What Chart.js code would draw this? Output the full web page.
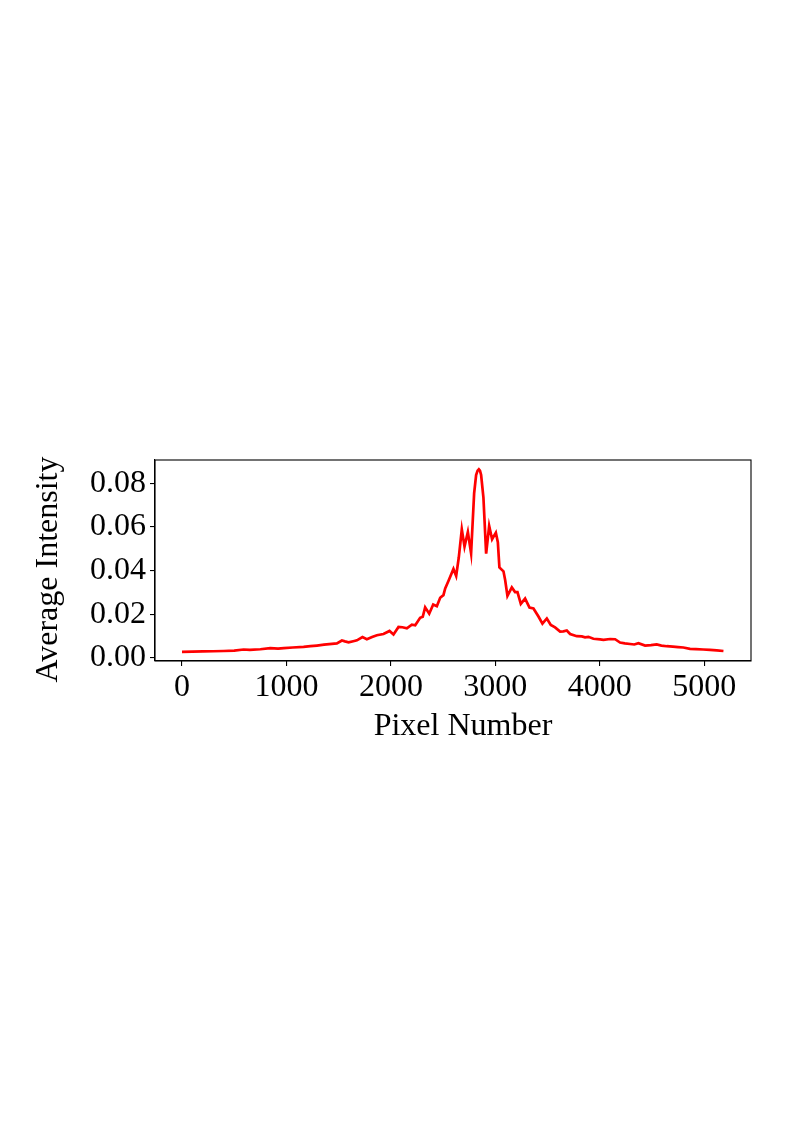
<!DOCTYPE html>
<html>
<head>
<meta charset="utf-8">
<script src="https://cdn.jsdelivr.net/npm/chart.js@4.4.1/dist/chart.umd.min.js"></script>
<style>
html,body{margin:0;padding:0;background:#fff;}
#wrap{position:relative;width:794px;height:1123px;}
</style>
</head>
<body>
<div id="wrap"><canvas id="c" width="794" height="1123"></canvas></div>
<script>
const pixelNumber = [0,100,200,300,400,500,590,650,750,845,920,975,1060,1164,1230,1292,1360,1435,1483,1531,1560,1595,1640,1675,1728,1770,1820,1866,1929,1987,2025,2073,2110,2153,2201,2233,2280,2305,2328,2367,2405,2440,2472,2503,2520,2552,2599,2625,2650,2679,2705,2737,2768,2797,2816,2830,2842,2853,2864,2886,2912,2941,2969,3005,3024,3039,3078,3094,3116,3158,3189,3212,3244,3285,3327,3365,3413,3451,3493,3531,3572,3620,3652,3684,3716,3780,3828,3859,3891,3939,4003,4035,4099,4147,4194,4240,4290,4330,4370,4434,4490,4545,4590,4641,4700,4750,4800,4864,4920,4990,5055,5120,5184];
const averageIntensity = [0.0028,0.0029,0.0030,0.0031,0.0032,0.0034,0.0039,0.0037,0.0040,0.0045,0.0043,0.0045,0.0048,0.0051,0.0054,0.0057,0.0061,0.0065,0.0067,0.0080,0.0076,0.0072,0.0077,0.0081,0.0096,0.0086,0.0096,0.0104,0.0110,0.0124,0.0108,0.0142,0.0141,0.0136,0.0153,0.0150,0.0184,0.0189,0.0232,0.0203,0.0245,0.0237,0.0276,0.0288,0.0319,0.0354,0.0408,0.0376,0.0460,0.0589,0.0510,0.0577,0.0479,0.0754,0.0838,0.0858,0.0864,0.0858,0.0838,0.0735,0.0478,0.0605,0.0544,0.0574,0.0530,0.0415,0.0397,0.0357,0.0284,0.0323,0.0302,0.0302,0.0248,0.0272,0.0231,0.0227,0.0190,0.0157,0.0181,0.0151,0.0140,0.0121,0.0122,0.0126,0.0110,0.0100,0.0099,0.0095,0.0097,0.0088,0.0085,0.0083,0.0087,0.0086,0.0071,0.0067,0.0064,0.0062,0.0068,0.0057,0.0059,0.0062,0.0057,0.0054,0.0052,0.0050,0.0048,0.0042,0.0041,0.0039,0.0037,0.0035,0.0032];
const xTicks = [0,1000,2000,3000,4000,5000];
const yTicks = [0.00,0.02,0.04,0.06,0.08];
const xLabel = 'Pixel Number';
const yLabel = 'Average Intensity';

Chart.defaults.color = '#000';
const FONT = {family:'"Liberation Serif", "Times New Roman", serif', size:32, lineHeight:1.2};

const frame = {
  id:'frame',
  beforeDraw(chart){
    // nudge the library's own axis titles to the reference's positions
    const shifts = {x:[10,0], y:[0,9]};
    for (const id in shifts) {
      const s = chart.scales[id];
      if (s && !s._titleShifted) {
        const orig = s.drawTitle;
        const [dx,dy] = shifts[id];
        s.drawTitle = function(){
          const ctx = this.ctx; ctx.save(); ctx.translate(dx,dy);
          orig.apply(this, arguments); ctx.restore();
        };
        s._titleShifted = true;
      }
    }
  },
  afterDraw(chart){
    const a = chart.chartArea, ctx = chart.ctx;
    ctx.save();
    ctx.strokeStyle = '#000';
    ctx.lineWidth = 1.1;
    ctx.strokeRect(a.left, a.top, a.right - a.left, a.bottom - a.top);
    ctx.restore();
  }
};

new Chart(document.getElementById('c'), {
  type:'line',
  data:{
    datasets:[{
      data: pixelNumber.map((x,i)=>({x:x, y:averageIntensity[i]})),
      borderColor:'#ff0000',
      borderWidth:2.7,
      pointRadius:0,
      tension:0,
      fill:false
    }]
  },
  options:{
    responsive:false,
    animation:false,
    devicePixelRatio:1,
    layout:{padding:{top:460,right:43,left:0,bottom:372}},
    plugins:{legend:{display:false},tooltip:{enabled:false}},
    scales:{
      x:{
        type:'linear',
        min:-258.4, max:5447.8,
        afterFit(s){ s.height = 90; },
        afterBuildTicks(s){ s.ticks = xTicks.map(v=>({value:v})); },
        ticks:{font:FONT, padding:2, maxRotation:0, autoSkip:false, callback:v=>String(v)},
        grid:{display:true, drawOnChartArea:false, drawTicks:true, tickLength:5, color:'#000', lineWidth:1.1},
        border:{display:true, color:'#000', width:1.1},
        title:{display:true, text:xLabel, font:FONT, padding:{top:0,bottom:5}}
      },
      y:{
        type:'linear',
        min:-0.00137, max:0.09067,
        afterFit(s){ s.width = 155; },
        afterBuildTicks(s){ s.ticks = yTicks.map(v=>({value:v})); },
        ticks:{font:FONT, padding:4, autoSkip:false, callback:v=>Number(v).toFixed(2)},
        grid:{display:true, drawOnChartArea:false, drawTicks:true, tickLength:5, color:'#000', lineWidth:1.1},
        border:{display:true, color:'#000', width:1.1},
        title:{display:true, text:yLabel, font:FONT, padding:{top:29,bottom:0}}
      }
    }
  },
  plugins:[frame]
});
</script>
</body>
</html>
